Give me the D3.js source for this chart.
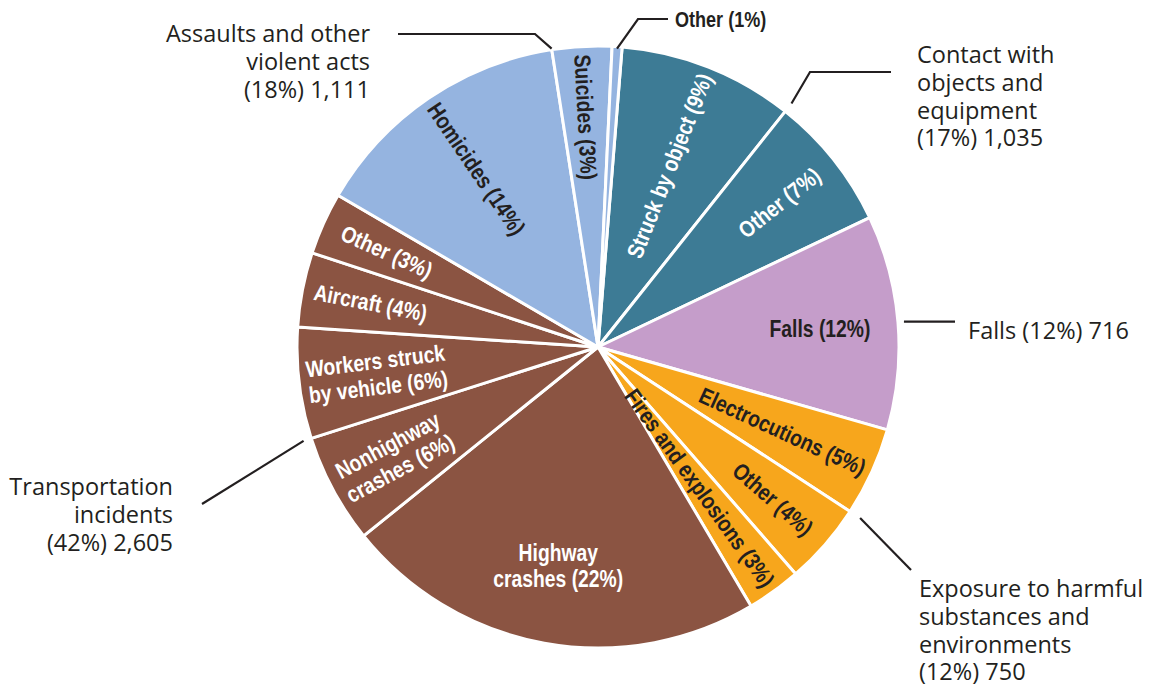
<!DOCTYPE html>
<html>
<head>
<meta charset="utf-8">
<script src="https://cdn.jsdelivr.net/npm/d3@7"></script>
<style>
  body { margin: 0; background: #fff; }
  svg { display: block; }
  .inner { font-family: "Liberation Sans", Arial, sans-serif; font-weight: bold; font-size: 23px; }
  .outer { font-family: "Open Sans", "Noto Sans", sans-serif; font-size: 23.5px; fill: #231f20; }
</style>
</head>
<body>
<svg width="1171" height="687"></svg>
<script>
// slices, clockwise from just right of 12 o'clock
const sliceLabels = ['Struck by object (9%)', 'Other (7%)', 'Falls (12%)', 'Electrocutions (5%)', 'Other (4%)',
  'Fires and explosions (3%)', 'Highway|crashes (22%)', 'Nonhighway|crashes (6%)', 'Workers struck|by vehicle (6%)',
  'Aircraft (4%)', 'Other (3%)', 'Homicides (14%)', 'Suicides (3%)', 'Other (1%)'];
const sliceGroups = ['contact', 'contact', 'falls', 'exposure', 'exposure', 'exposure', 'transport', 'transport',
  'transport', 'transport', 'transport', 'assault', 'assault', 'assault'];
const sliceValues = [585, 450, 716, 296, 273, 181, 1411, 366, 371, 249, 208, 879, 199, 33];

const groupKeys = ['transport', 'assault', 'contact', 'falls', 'exposure'];
const groupText = [
  ['Transportation', 'incidents', '(42%) 2,605'],
  ['Assaults and other', 'violent acts', '(18%) 1,111'],
  ['Contact with', 'objects and', 'equipment', '(17%) 1,035'],
  ['Falls (12%) 716'],
  ['Exposure to harmful', 'substances and', 'environments', '(12%) 750']
];

const colors = { transport: '#8b5442', assault: '#95b4e0', contact: '#3d7b95', falls: '#c59dca', exposure: '#f7a61c' };
const darkText = { transport: false, assault: true, contact: false, falls: true, exposure: true };
const ink = '#231f20';
const narrow = 0.84; // condensed look

const cx = 598, cy = 347, R = 301;
const svg = d3.select('svg');
const g = svg.append('g').attr('transform', `translate(${cx},${cy})`);

const startA = 4.6 * Math.PI / 180;
const pie = d3.pie().sort(null).value(d => d.value).startAngle(startA).endAngle(startA + 2 * Math.PI);
const data = sliceValues.map((v, i) => ({ value: v, label: sliceLabels[i], group: sliceGroups[i] }));
const arcs = pie(data);
const arc = d3.arc().innerRadius(0).outerRadius(R);

g.selectAll('path.slice')
  .data(arcs)
  .enter()
  .append('path')
  .attr('class', 'slice')
  .attr('d', arc)
  .attr('fill', d => colors[d.data.group])
  .attr('stroke', '#fff')
  .attr('stroke-width', 3)
  .attr('stroke-linejoin', 'round');

// point at angle a (clockwise from top) and radius r, relative to centre
function pt(a, r) { return [Math.sin(a) * r, -Math.cos(a) * r]; }

const flat = ['Falls (12%)', 'Highway|crashes (22%)'];
const lineGap = 26;

arcs.forEach(d => {
  if (d.data.label === 'Other (1%)') return; // labelled outside
  const lines = d.data.label.split('|');
  const mid = (d.startAngle + d.endAngle) / 2;
  const deg = mid * 180 / Math.PI;
  const isFlat = flat.includes(d.data.label);
  let rot = 0;
  if (!isFlat) rot = deg < 180 ? deg - 90 : deg - 270;
  const t = g.append('text')
    .attr('class', 'inner')
    .attr('text-anchor', 'middle')
    .attr('fill', darkText[d.data.group] ? ink : '#fff');
  lines.forEach((s, i) => {
    t.append('tspan')
      .attr('x', 0)
      .attr('y', (i - (lines.length - 1) / 2) * lineGap)
      .attr('dy', '0.35em')
      .text(s);
  });
  let len = 0;
  t.selectAll('tspan').each(function () { len = Math.max(len, this.getComputedTextLength() * narrow); });
  const r = isFlat ? 0.74 * R : Math.min(0.77 * R, R - len / 2 - 8);
  const p = pt(mid, r);
  t.attr('transform', `translate(${p[0]},${p[1]}) rotate(${rot}) scale(${narrow},1)`);
});

// helpers for leader starting points
const boundary = (i, r) => pt(arcs[i].endAngle, r);
const middle = (i, r) => pt((arcs[i].startAngle + arcs[i].endAngle) / 2, r);

const leaders = [
  { from: boundary(7, R + 8), pts: [[202 - cx, 504 - cy]] },
  { from: boundary(11, R + 1), pts: [[535 - cx, 34 - cy], [398 - cx, 34 - cy]] },
  { from: boundary(0, R + 10), pts: [[810 - cx, 72 - cy], [891 - cx, 72 - cy]] },
  { from: middle(2, R + 6), pts: [[955 - cx, middle(2, R + 6)[1]]] },
  { from: boundary(3, R + 12), pts: [[911 - cx, 570 - cy]] },
  { from: middle(13, R - 2), pts: [[638 - cx, 19 - cy], [668 - cx, 19 - cy]] }
];

g.selectAll('path.leader')
  .data(leaders)
  .enter()
  .append('path')
  .attr('class', 'leader')
  .attr('d', d => d3.line()([d.from].concat(d.pts)))
  .attr('fill', 'none')
  .attr('stroke', ink)
  .attr('stroke-width', 2.2);

const textPos = {
  transport: { x: 173, y: 495, anchor: 'end' },
  assault: { x: 370, y: 42, anchor: 'end' },
  contact: { x: 917, y: 63, anchor: 'start' },
  falls: { x: 968, y: 339, anchor: 'start' },
  exposure: { x: 919, y: 597, anchor: 'start' }
};

groupKeys.forEach((k, gi) => {
  const p = textPos[k];
  const t = svg.append('text')
    .attr('class', 'outer')
    .attr('text-anchor', p.anchor);
  groupText[gi].forEach((s, i) => {
    t.append('tspan').attr('x', p.x).attr('y', p.y + i * 27.8).text(s);
  });
});

svg.append('text')
  .attr('class', 'inner')
  .style('font-size', '21.5px')
  .attr('transform', `translate(675,27) scale(${narrow},1)`)
  .attr('fill', ink)
  .text(sliceLabels[13]);
</script>
</body>
</html>
